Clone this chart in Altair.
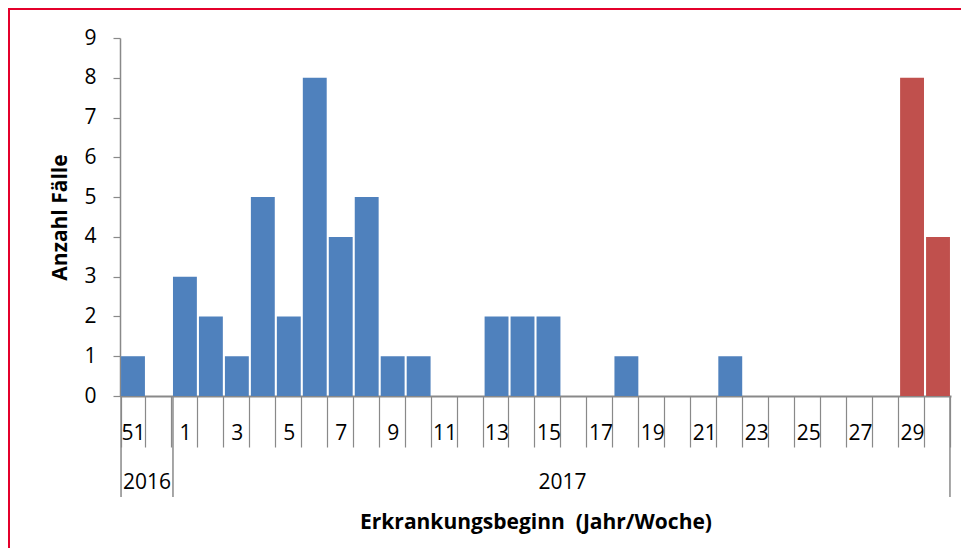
import altair as alt
import pandas as pd

weeks = ["51", "52"] + [str(i) for i in range(1, 31)]
years = ["2016"] * 2 + ["2017"] * 30
cases = [1, 0,
         3, 2, 1, 5, 2, 8, 4, 5, 1, 1,
         0, 0, 2, 2, 2, 0, 0, 1,
         0, 0, 0, 1, 0, 0, 0, 0, 0, 0,
         8, 4]
status = ["frueher"] * 30 + ["aktuell"] * 2
y_ticks = list(range(0, 10))

year_labels = ["2016", "2017"]
year_anchor = ["52", "16"]
sep_weeks_start = ["51", "1"]
sep_weeks_end = ["30"]

FONT = "Open Sans"
FS = 21
GREY = "#898989"
RED = "#E4002B"
W, H = 831, 358

df = pd.DataFrame({"week": weeks, "year": years, "cases": cases, "status": status})

xscale = alt.Scale(domain=weeks, paddingInner=0.08, paddingOuter=0.04)

bars = alt.Chart(df).mark_bar().encode(
    x=alt.X("week:N", scale=xscale, sort=weeks,
            axis=alt.Axis(
                title="Erkrankungsbeginn \u00a0(Jahr/Woche)",
                titleFont=FONT, titleFontSize=FS, titleFontWeight="bold", titleColor="black",
                titleY=126, titleBaseline="middle",
                labelExpr="toNumber(datum.value) % 2 == 1 ? datum.label : ''",
                labelAngle=0, labelFont=FONT, labelFontSize=FS, labelColor="black",
                labelBaseline="middle", labelPadding=-14,
                tickBand="extent", tickSize=51, tickColor=GREY, tickWidth=1.2,
                domainColor=GREY, domainWidth=2, grid=False)),
    y=alt.Y("cases:Q", scale=alt.Scale(domain=[0, 9], nice=False),
            axis=alt.Axis(
                title="Anzahl Fälle", values=y_ticks,
                titleFont=FONT, titleFontSize=FS, titleFontWeight="bold", titleColor="black",
                titleX=-60, titleY=H / 2, titleAngle=-90, titleAlign="center", titleBaseline="middle",
                labelFont=FONT, labelFontSize=FS, labelColor="black", labelPadding=17,
                tickSize=7, tickColor=GREY, tickWidth=1.2,
                domainColor=GREY, domainWidth=1.5, grid=False)),
    color=alt.Color("status:N", scale=alt.Scale(domain=["frueher", "aktuell"],
                                                range=["#4F81BD", "#C0504D"]), legend=None),
)

sep_df1 = pd.DataFrame({"week": sep_weeks_start})
sep_df2 = pd.DataFrame({"week": sep_weeks_end})
sep1 = alt.Chart(sep_df1).mark_rule(color=GREY, strokeWidth=1.5).encode(
    x=alt.X("week:N", scale=xscale, bandPosition=0),
    y=alt.value(H), y2=alt.value(H + 101))
sep2 = alt.Chart(sep_df2).mark_rule(color=GREY, strokeWidth=1.5).encode(
    x=alt.X("week:N", scale=xscale, bandPosition=1),
    y=alt.value(H), y2=alt.value(H + 101))

yr_df = pd.DataFrame({"week": year_anchor, "label": year_labels})
yr_text = alt.Chart(yr_df).mark_text(font=FONT, fontSize=FS, color="black", baseline="middle").encode(
    x=alt.X("week:N", scale=xscale, bandPosition=0),
    y=alt.value(H + 87),
    text="label:N")

one = pd.DataFrame({"a": [0]})
frame_left = alt.Chart(one).mark_rule(color=RED, strokeWidth=2, opacity=1).encode(
    x=alt.value(-111), y=alt.value(-30), y2=alt.value(H + 160))
frame_top = alt.Chart(one).mark_rule(color=RED, strokeWidth=2, opacity=1).encode(
    x=alt.value(-112), x2=alt.value(W + 20), y=alt.value(-29))

chart = alt.layer(bars, sep1, sep2, yr_text, frame_left, frame_top).properties(
    width=W, height=H,
    padding={"left": 112, "top": 30, "right": 10, "bottom": 152},
    autosize=alt.AutoSizeParams(type="none"),
).configure_view(stroke=None)

chart.save("out.html", embed_options={"renderer": "svg", "actions": False})
